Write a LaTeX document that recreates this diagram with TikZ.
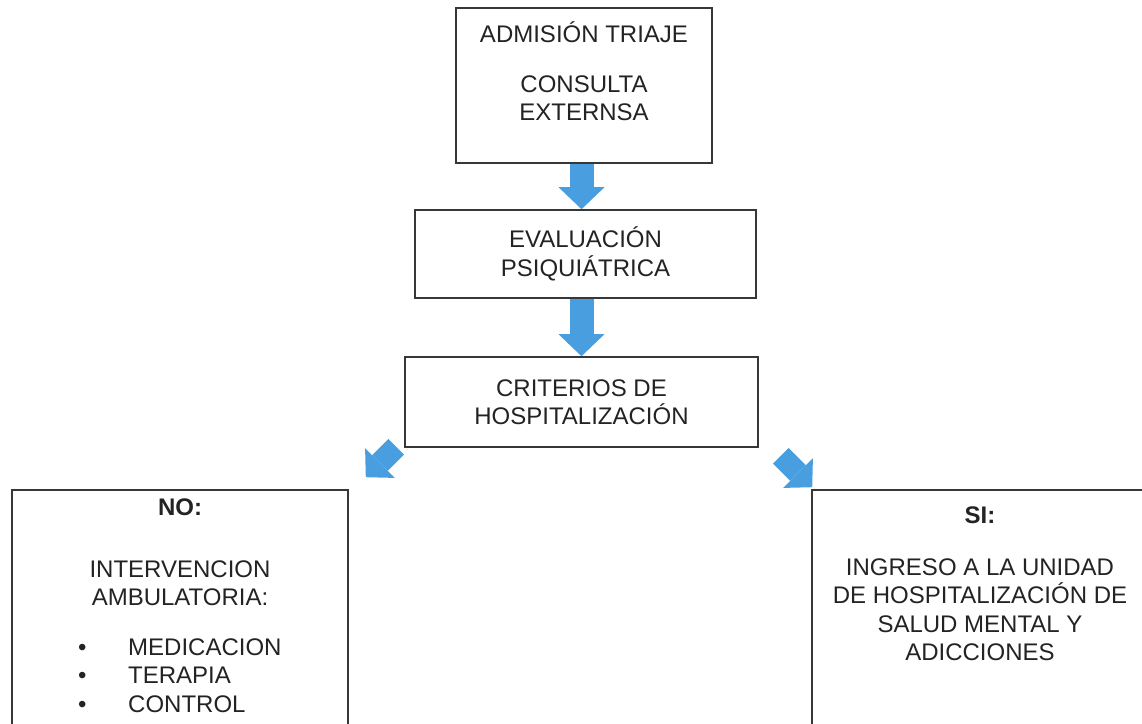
\documentclass[tikz,border=0pt]{standalone}
\usepackage{fontspec}
\setmainfont{Liberation Sans}
\usetikzlibrary{arrows.meta,calc}
\definecolor{arrowblue}{RGB}{72,158,222}
\definecolor{boxline}{RGB}{55,55,55}
\definecolor{textgray}{RGB}{35,35,35}
\newcommand\topstrut{\rule{0pt}{24pt}}
\begin{document}
\begin{tikzpicture}[x=1pt,y=-1pt,
  box/.style={draw=boxline,line width=1.6pt,rectangle,inner sep=0pt},
  txt/.style={font=\fontsize{24}{28.5}\selectfont,text=textgray,align=center,inner sep=0pt},
  bigarrow/.style={draw=arrowblue,line width=24pt,
    -{Triangle[width=46pt,length=22pt,line width=0pt,fill=arrowblue]}},
  diagarrow/.style={draw=arrowblue,line width=22pt,
    -{Triangle[width=42pt,length=20pt,line width=0pt,fill=arrowblue]}},
]
\useasboundingbox (0,0) rectangle (1142,723);
\clip (0,0) rectangle (1142,723);

% boxes
\node[box, minimum width=256pt, minimum height=155pt] (b1) at (584,85.5) {};
\node[txt, anchor=north] (t1) at (584,18) {\topstrut ADMISIÓN TRIAJE\\[21.5pt]CONSULTA\\EXTERNSA};

\node[box, txt, minimum width=341pt, minimum height=88pt] (b2) at (585.5,254) {EVALUACIÓN\\PSIQUIÁTRICA};

\node[box, txt, minimum width=353pt, minimum height=90pt] (b3) at (581.5,402) {CRITERIOS DE\\HOSPITALIZACIÓN};

\node[box, minimum width=336pt, minimum height=270pt] (no) at (180,625) {};
\node[txt, anchor=north] (tno) at (180,491) {\topstrut\textbf{NO:}\\[33.5pt]INTERVENCION\\AMBULATORIA:};
\node[txt, align=left, anchor=north west] (tlist) at (78,631)
  {\topstrut\makebox[50pt][l]{\textbullet}MEDICACION\\
   \makebox[50pt][l]{\textbullet}TERAPIA\\
   \makebox[50pt][l]{\textbullet}CONTROL};

\node[box, minimum width=338pt, minimum height=270pt] (si) at (981,625) {};
\node[txt, anchor=north] (tsi) at (980,499) {\topstrut\textbf{SI:}\\[23.5pt]INGRESO A LA UNIDAD\\DE HOSPITALIZACIÓN DE\\SALUD MENTAL Y\\ADICCIONES};

% connectors
\draw[bigarrow] (b1.south -| b3.north) -- (b2.north -| b3.north);
\draw[bigarrow] (b2.south -| b3.north) -- (b3.north);
\draw[diagarrow] ($(b3.south west)+(-8,-1)$) -- ($(no.north east)+(17,-12)$);
\draw[diagarrow] ($(b3.south east)+(22,8)$) -- ($(si.north west)+(1,-2)$);
\end{tikzpicture}
\end{document}
